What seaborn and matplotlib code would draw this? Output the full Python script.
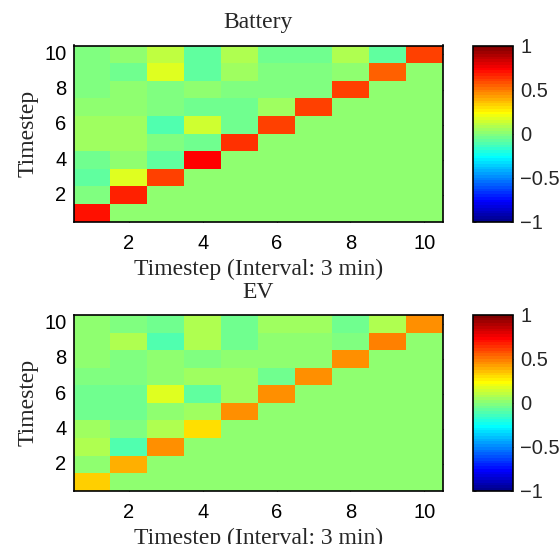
import numpy as np
import pandas as pd
import matplotlib
matplotlib.use("Agg")
import matplotlib.pyplot as plt
from matplotlib.colors import ListedColormap
import seaborn as sns

# ---- data (rows = timestep 1..10, columns = timestep 1..10) ----
steps = list(range(1, 11))
tick_vals = [2, 4, 6, 8, 10]
cbar_ticks = [-1, -0.5, 0, 0.5, 1]
cbar_labels = ["\u22121", "\u22120.5", "0", "0.5", "1"]

battery = [
    [0.70, 0, 0, 0, 0, 0, 0, 0, 0, 0],
    [-0.02, 0.66, 0, 0, 0, 0, 0, 0, 0, 0],
    [-0.09, 0.16, 0.60, 0, 0, 0, 0, 0, 0, 0],
    [-0.06, 0.03, -0.09, 0.73, 0, 0, 0, 0, 0, 0],
    [0.06, 0.06, -0.01, -0.04, 0.63, 0, 0, 0, 0, 0],
    [0.06, 0.06, -0.12, 0.13, -0.04, 0.61, 0, 0, 0, 0],
    [0.03, 0.03, -0.01, -0.04, -0.04, 0.06, 0.60, 0, 0, 0],
    [-0.01, 0.03, -0.01, 0.03, -0.01, -0.01, -0.01, 0.60, 0, 0],
    [-0.01, -0.04, 0.16, -0.07, 0.06, -0.01, -0.01, 0.03, 0.56, 0],
    [-0.01, 0.03, 0.10, -0.07, 0.09, -0.04, -0.04, 0.07, -0.07, 0.60],
]

ev = [
    [0.34, 0, 0, 0, 0, 0, 0, 0, 0, 0],
    [0.01, 0.39, 0, 0, 0, 0, 0, 0, 0, 0],
    [0.09, -0.12, 0.44, 0, 0, 0, 0, 0, 0, 0],
    [0.06, -0.03, 0.09, 0.31, 0, 0, 0, 0, 0, 0],
    [-0.06, -0.06, 0.01, 0.06, 0.44, 0, 0, 0, 0, 0],
    [-0.06, -0.06, 0.16, -0.09, 0.06, 0.44, 0, 0, 0, 0],
    [-0.03, -0.03, 0.01, 0.06, 0.06, -0.04, 0.44, 0, 0, 0],
    [0.01, -0.01, 0.01, -0.01, 0.00, 0.00, 0.00, 0.44, 0, 0],
    [0.01, 0.09, -0.12, 0.09, -0.06, 0.00, 0.00, -0.02, 0.47, 0],
    [0.01, -0.03, -0.06, 0.09, -0.06, 0.05, 0.05, -0.06, 0.09, 0.44],
]

titles = ["Battery", "EV"]
xlabel = "Timestep (Interval: 3 min)"
ylabel = "Timestep"

# ---- MATLAB-style jet(64) colormap ----
def matlab_jet(n=64):
    m = n // 4
    u = np.concatenate([np.arange(1, m + 1) / m, np.ones(m - 1), np.arange(m, 0, -1) / m])
    g = int(np.ceil(m / 2)) - (1 if n % 4 == 1 else 0) + np.arange(1, len(u) + 1)
    r = g + m
    b = g - m
    J = np.zeros((n, 3))
    for ch, idx in ((0, r), (1, g), (2, b)):
        ok = (idx >= 1) & (idx <= n)
        J[idx[ok] - 1, ch] = u[ok]
    return ListedColormap(J)

cmap = matlab_jet(64)

sns.set_style("white")
serif = ["Liberation Serif", "DejaVu Serif"]
sans = ["Liberation Sans", "DejaVu Sans"]

fig = plt.figure(figsize=(5.6, 5.44), dpi=100)
W, H = 560, 544

def fr(x0, y0, x1, y1):
    return [x0 / W, 1 - y1 / H, (x1 - x0) / W, (y1 - y0) / H]

ax_boxes = [fr(73.5, 45.5, 442.7, 221.7), fr(73.5, 315, 442.7, 490.8)]
cb_boxes = [fr(473.3, 45.5, 513.3, 221.7), fr(473.3, 315, 513.3, 490.8)]

for data, title, axb, cbb in zip([battery, ev], titles, ax_boxes, cb_boxes):
    ax = fig.add_axes(axb)
    cax = fig.add_axes(cbb)
    df = pd.DataFrame(data, index=steps, columns=steps)
    sns.heatmap(df, ax=ax, cbar_ax=cax, cmap=cmap, vmin=-1, vmax=1,
                cbar=True, square=False, linewidths=0)
    ax.invert_yaxis()
    pos = [steps.index(v) + 0.5 for v in tick_vals]
    ax.set_xticks(pos)
    ax.set_xticklabels([str(v) for v in tick_vals], rotation=0, fontfamily=sans, fontsize=14.5)
    ax.set_yticks(pos)
    ax.set_yticklabels([str(v) for v in tick_vals], rotation=0, fontfamily=sans, fontsize=14.5)
    for s in ax.spines.values():
        s.set_visible(True)
        s.set_color("black")
        s.set_linewidth(1.2)
    ax.tick_params(direction="in", length=3, width=0.8, top=True, right=True,
                   bottom=True, left=True, colors="black", labelcolor="black")
    ax.tick_params(axis="x", pad=9)
    ax.tick_params(axis="y", pad=5)
    ax.set_title(title, fontfamily=serif, fontsize=17, pad=12.5)
    ax.set_xlabel(xlabel, fontfamily=serif, fontsize=17, labelpad=4)
    ax.set_ylabel(ylabel, fontfamily=serif, fontsize=17, labelpad=4)

    cax.set_yticks(cbar_ticks)
    cax.set_yticklabels(cbar_labels, fontfamily=sans, fontsize=14.5)
    cax.tick_params(direction="in", length=2, width=0.6, left=True, right=True, pad=5)
    cb = ax.collections[0].colorbar
    cb.outline.set_visible(True)
    cb.outline.set_edgecolor("black")
    cb.outline.set_linewidth(1.2)

fig.savefig("out.png", dpi=100)
